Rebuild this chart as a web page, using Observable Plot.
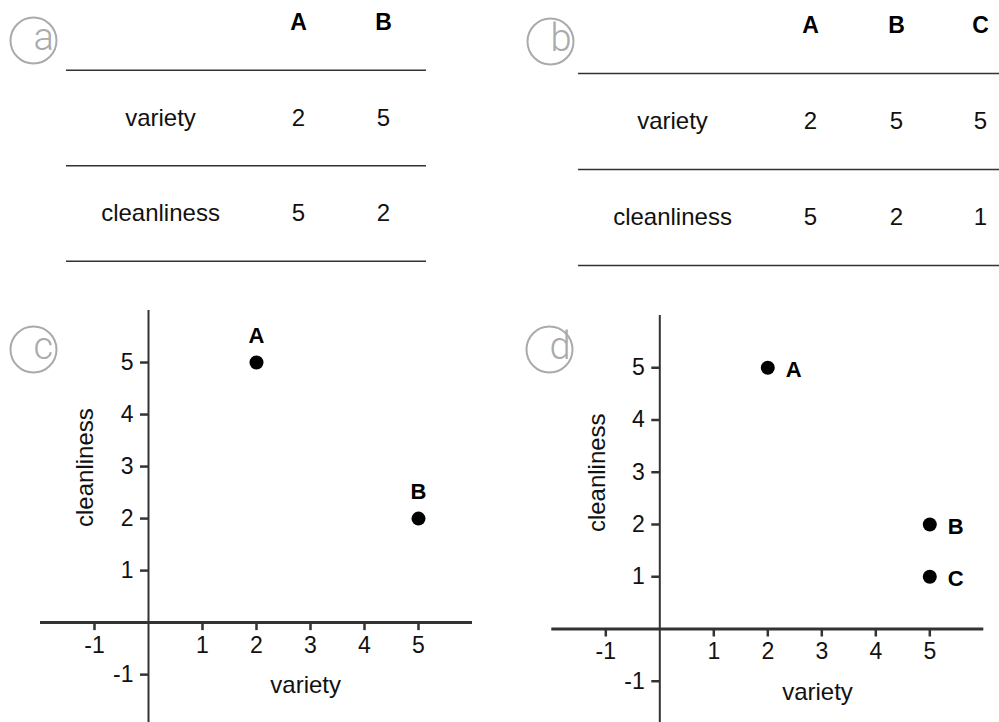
<!DOCTYPE html>
<html><head><meta charset="utf-8">
<script src="https://cdn.jsdelivr.net/npm/d3@7"></script>
<script src="https://cdn.jsdelivr.net/npm/@observablehq/plot@0.6"></script>
<style>
body{margin:0;background:#fff;}
#wrap{position:relative;width:999px;height:722px;overflow:hidden;background:#fff;}
#wrap > svg{position:absolute;}
</style></head><body><div id="wrap"></div>
<script>
// ---- data ----
const rowLabels = ["variety", "cleanliness"];
const colsA = ["A", "B"];
const varietyA = [2, 5];
const cleanA = [5, 2];
const colsB = ["A", "B", "C"];
const varietyB = [2, 5, 5];
const cleanB = [5, 2, 1];
const xTicks = [-1, 1, 2, 3, 4, 5];
const yTicks = [5, 4, 3, 2, 1, -1];
const panelLetters = ["a", "b", "c", "d"];

const FONT = '"Liberation Sans", Arial, Helvetica, sans-serif';
const wrap = document.getElementById("wrap");

function circled(letter, cx, cy, ml, mt) {
  return [
    Plot.dot([0], {frameAnchor: "top-left", dx: cx - ml, dy: cy - mt, r: 23, stroke: "#aaa", strokeWidth: 2, fill: "none"}),
    Plot.text([letter], {frameAnchor: "top-left", dx: cx - ml, dy: cy - mt + 9, text: d => d, lineAnchor: "bottom",
      fontSize: 38, fontWeight: 300, fontFamily: "Roboto, 'Liberation Sans', sans-serif", fill: "#aaa"})
  ];
}

function table(cols, series, o) {
  // column index 0 = row-label column, 1.. = data columns
  const cells = [];
  cols.forEach((c, i) => {
    cells.push({col: i + 1, row: 0, text: c, head: true});
    series.forEach((vals, j) => cells.push({col: i + 1, row: j + 1, text: String(vals[i])}));
  });
  rowLabels.forEach((r, j) => cells.push({col: 0, row: j + 1, text: r}));
  const svg = Plot.plot({
    width: o.width, height: 280, marginLeft: o.ml, marginRight: o.mr, marginTop: 0, marginBottom: 0,
    style: {fontFamily: FONT, background: "transparent", overflow: "visible"},
    x: {type: "linear", domain: d3.range(cols.length + 1), range: o.colRange, axis: null},
    y: {type: "linear", domain: [0, 2], range: [o.top, o.top + 2 * o.step], axis: null},
    marks: [
      Plot.ruleY([0.5, 1.5, 2.5], {stroke: "#333", strokeWidth: 1.6}),
      Plot.text(cells.filter(d => !d.head), {x: "col", y: "row", text: "text", fontSize: 24, fill: "#111"}),
      Plot.text(cells.filter(d => d.head), {x: "col", y: "row", text: "text", fontSize: 23, fontWeight: "bold", fill: "#000"}),
      ...circled(o.letter, o.cx, o.cy, o.ml, 0)
    ]
  });
  svg.style.left = o.left + "px"; svg.style.top = o.topPos + "px";
  wrap.appendChild(svg);
}

function scatter(cols, vx, vy, o) {
  const pts = cols.map((c, i) => ({name: c, x: vx[i], y: vy[i]}));
  const H = 432;
  const unitX = (o.width - o.ml - o.mr) / 8;
  const unitY = (H - o.mt) / (6 - o.ymin);
  const tl = 8;
  const svg = Plot.plot({
    width: o.width, height: H, marginLeft: o.ml, marginRight: o.mr, marginTop: o.mt, marginBottom: 0,
    style: {fontFamily: FONT, background: "transparent", overflow: "visible"},
    x: {domain: [-2, 6], axis: null},
    y: {domain: [o.ymin, 6], axis: null},
    marks: [
      Plot.ruleY([0], {stroke: "#333", strokeWidth: 3}),
      Plot.ruleX([0], {stroke: "#333", strokeWidth: 2}),
      Plot.ruleX(xTicks, {x: d => d, y1: 0, y2: -tl / unitY, stroke: "#333", strokeWidth: 2.5}),
      Plot.ruleY(yTicks, {y: d => d, x1: 0, x2: -tl / unitX, stroke: "#333", strokeWidth: 2.5}),
      Plot.text(xTicks, {x: d => d, y: 0, text: d => String(d), dy: 23, fontSize: 23, fill: "#111"}),
      Plot.text(yTicks, {x: 0, y: d => d, text: d => String(d), dx: -15, textAnchor: "end", fontSize: 23, fill: "#111"}),
      Plot.dot(pts, {x: "x", y: "y", r: 7, fill: "#000"}),
      Plot.text(pts, {x: "x", y: "y", text: "name", fontWeight: "bold", fontSize: 22, fill: "#000", ...o.label}),
      Plot.text(["variety"], {x: o.vt[0], y: o.vt[1], text: d => d, fontSize: 24, fill: "#111"}),
      Plot.text(["cleanliness"], {x: o.ct[0], y: o.ct[1], text: d => d, rotate: -90, fontSize: 24, fill: "#111"}),
      ...circled(o.letter, o.cx, o.cy, o.ml, o.mt)
    ]
  });
  svg.style.left = o.left + "px"; svg.style.top = o.topPos + "px";
  wrap.appendChild(svg);
}

table(colsA, [varietyA, cleanA], {
  left: 0, topPos: 0, width: 450, ml: 66, mr: 24, colRange: [160, 298, 383], top: 22, step: 95.5,
  letter: panelLetters[0], cx: 33, cy: 40
});
table(colsB, [varietyB, cleanB], {
  left: 520, topPos: 0, width: 479, ml: 58, mr: 0, colRange: [152, 290, 376, 460], top: 25, step: 96,
  letter: panelLetters[1], cx: 30, cy: 41
});
scatter(colsA, varietyA, cleanA, {
  left: 0, topPos: 290, width: 480, ml: 40, mr: 8, mt: 20, ymin: -1.92,
  label: {dy: -27}, vt: [2.91, -1.21], ct: [-1.17, 2.98],
  letter: panelLetters[2], cx: 33, cy: 59
});
scatter(colsB, varietyB, cleanB, {
  left: 520, topPos: 290, width: 479, ml: 31.3, mr: 15.7, mt: 25, ymin: -1.79,
  label: {dx: 18, dy: 2, textAnchor: "start"}, vt: [2.92, -1.22], ct: [-1.15, 2.99],
  letter: panelLetters[3], cx: 29, cy: 59
});
</script>
</body></html>
